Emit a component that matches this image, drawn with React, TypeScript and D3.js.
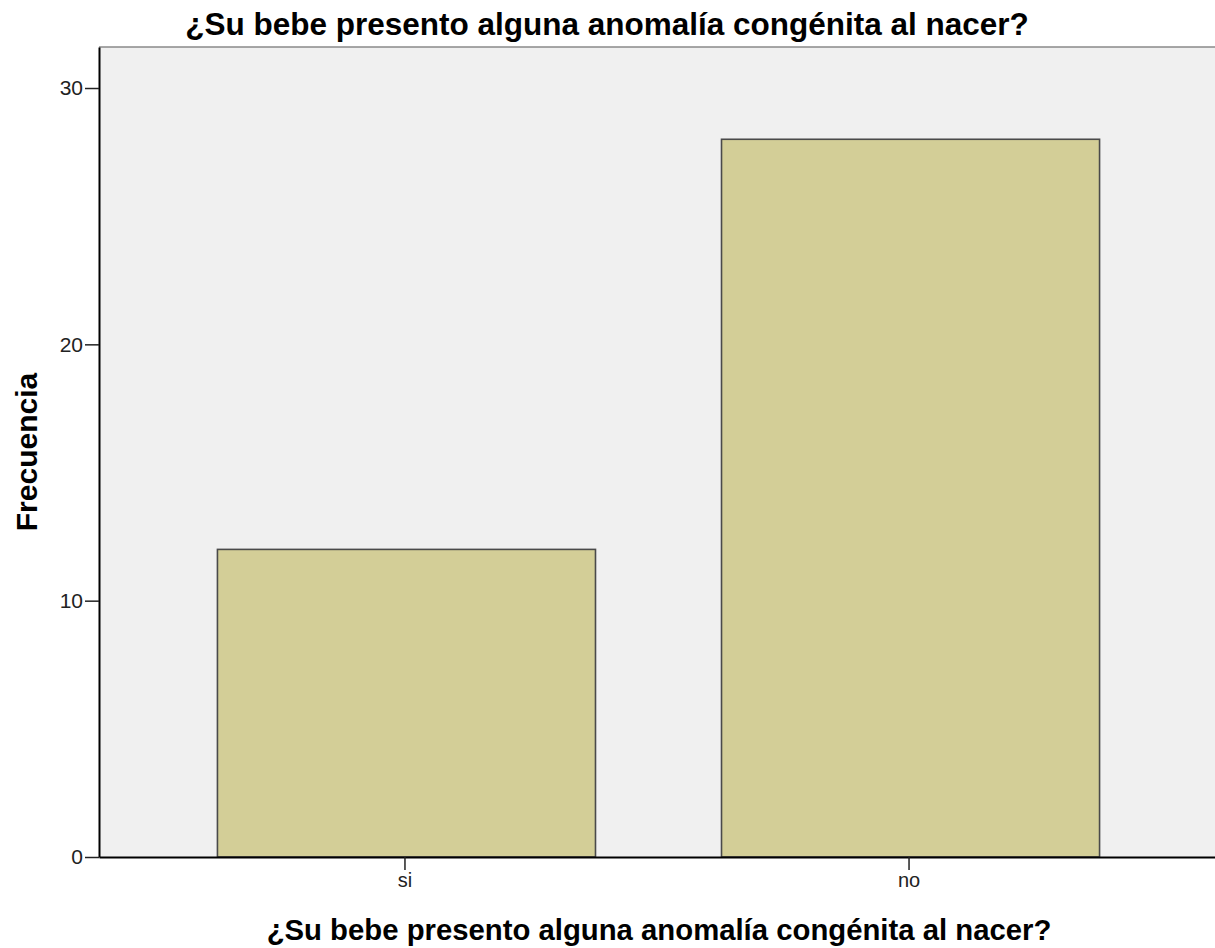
import { useEffect, useRef } from "react";
import { select, scaleLinear, scaleBand, axisBottom, axisLeft } from "d3";

const categories = ["si", "no"];
const frequencies = [12, 28];
const yTicks = [0, 10, 20, 30];
const titleText = "¿Su bebe presento alguna anomalía congénita al nacer?";
const yLabel = "Frecuencia";

const W = 1215;
const H = 948;
const FONT = "'Liberation Sans', Arial, sans-serif";

const drawChart = (node: SVGSVGElement) => {
  const svg = select(node);
  svg.selectAll("*").remove();

  // área de trazado
  const left = 99,
    right = 1215,
    top = 47,
    bottom = 857;

  const y = scaleLinear([0, 31.6], [bottom, top]);
  const x = scaleBand(categories, [left, right])
    .paddingInner(0.25)
    .paddingOuter(0.232)
    .align(0.5);

  svg.append("rect").attr("width", W).attr("height", H).attr("fill", "#fff");

  svg
    .append("rect")
    .attr("x", left)
    .attr("y", top)
    .attr("width", right - left)
    .attr("height", bottom - top)
    .attr("fill", "#f0f0f0");

  // borde superior gris
  svg
    .append("line")
    .attr("x1", left)
    .attr("x2", right)
    .attr("y1", top)
    .attr("y2", top)
    .attr("stroke", "#8a8a8a")
    .attr("stroke-width", 1.5);

  // barras
  svg
    .append("g")
    .selectAll("rect")
    .data(frequencies)
    .enter()
    .append("rect")
    .attr("x", (d, i) => (x(categories[i]) as number) + 1.5)
    .attr("y", (d) => y(d))
    .attr("width", x.bandwidth())
    .attr("height", (d) => bottom - y(d))
    .attr("fill", "#d3ce97")
    .attr("stroke", "#4a4a4a")
    .attr("stroke-width", 1.6);

  // ejes
  const gx = svg
    .append("g")
    .attr("transform", `translate(0,${bottom})`)
    .call(axisBottom(x).tickSize(13).tickPadding(3).tickSizeOuter(0));
  gx.select(".domain").attr("stroke", "#000").attr("stroke-width", 2);
  gx.selectAll(".tick line").attr("stroke", "#222").attr("stroke-width", 1.5);
  gx.selectAll("text")
    .attr("font-family", FONT)
    .attr("font-size", 20)
    .attr("fill", "#222");

  const gy = svg
    .append("g")
    .attr("transform", `translate(${left},0)`)
    .call(
      axisLeft(y)
        .tickValues(yTicks)
        .tickSize(14)
        .tickPadding(2)
        .tickSizeOuter(0)
    );
  gy.select(".domain").attr("stroke", "#000").attr("stroke-width", 2);
  gy.selectAll(".tick line").attr("stroke", "#222").attr("stroke-width", 1.5);
  gy.selectAll("text")
    .attr("font-family", FONT)
    .attr("font-size", 21)
    .attr("fill", "#222");

  // títulos
  svg
    .append("text")
    .text(titleText)
    .attr("x", 607)
    .attr("y", 35)
    .attr("text-anchor", "middle")
    .attr("font-family", FONT)
    .attr("font-weight", "bold")
    .attr("font-size", 31.5)
    .attr("fill", "#000");

  svg
    .append("text")
    .text(titleText)
    .attr("x", 659)
    .attr("y", 940)
    .attr("text-anchor", "middle")
    .attr("font-family", FONT)
    .attr("font-weight", "bold")
    .attr("font-size", 29.3)
    .attr("fill", "#000");

  svg
    .append("text")
    .text(yLabel)
    .attr("transform", `translate(37,452) rotate(-90)`)
    .attr("text-anchor", "middle")
    .attr("font-family", FONT)
    .attr("font-weight", "bold")
    .attr("font-size", 30)
    .attr("fill", "#000");
};

const App = () => {
  const ref = useRef<SVGSVGElement>(null);
  useEffect(() => {
    if (ref.current) drawChart(ref.current);
  }, []);
  return (
    <svg
      ref={ref}
      width={W}
      height={H}
      style={{ position: "absolute", left: 0, top: 0, display: "block" }}
    />
  );
};

export default App;
